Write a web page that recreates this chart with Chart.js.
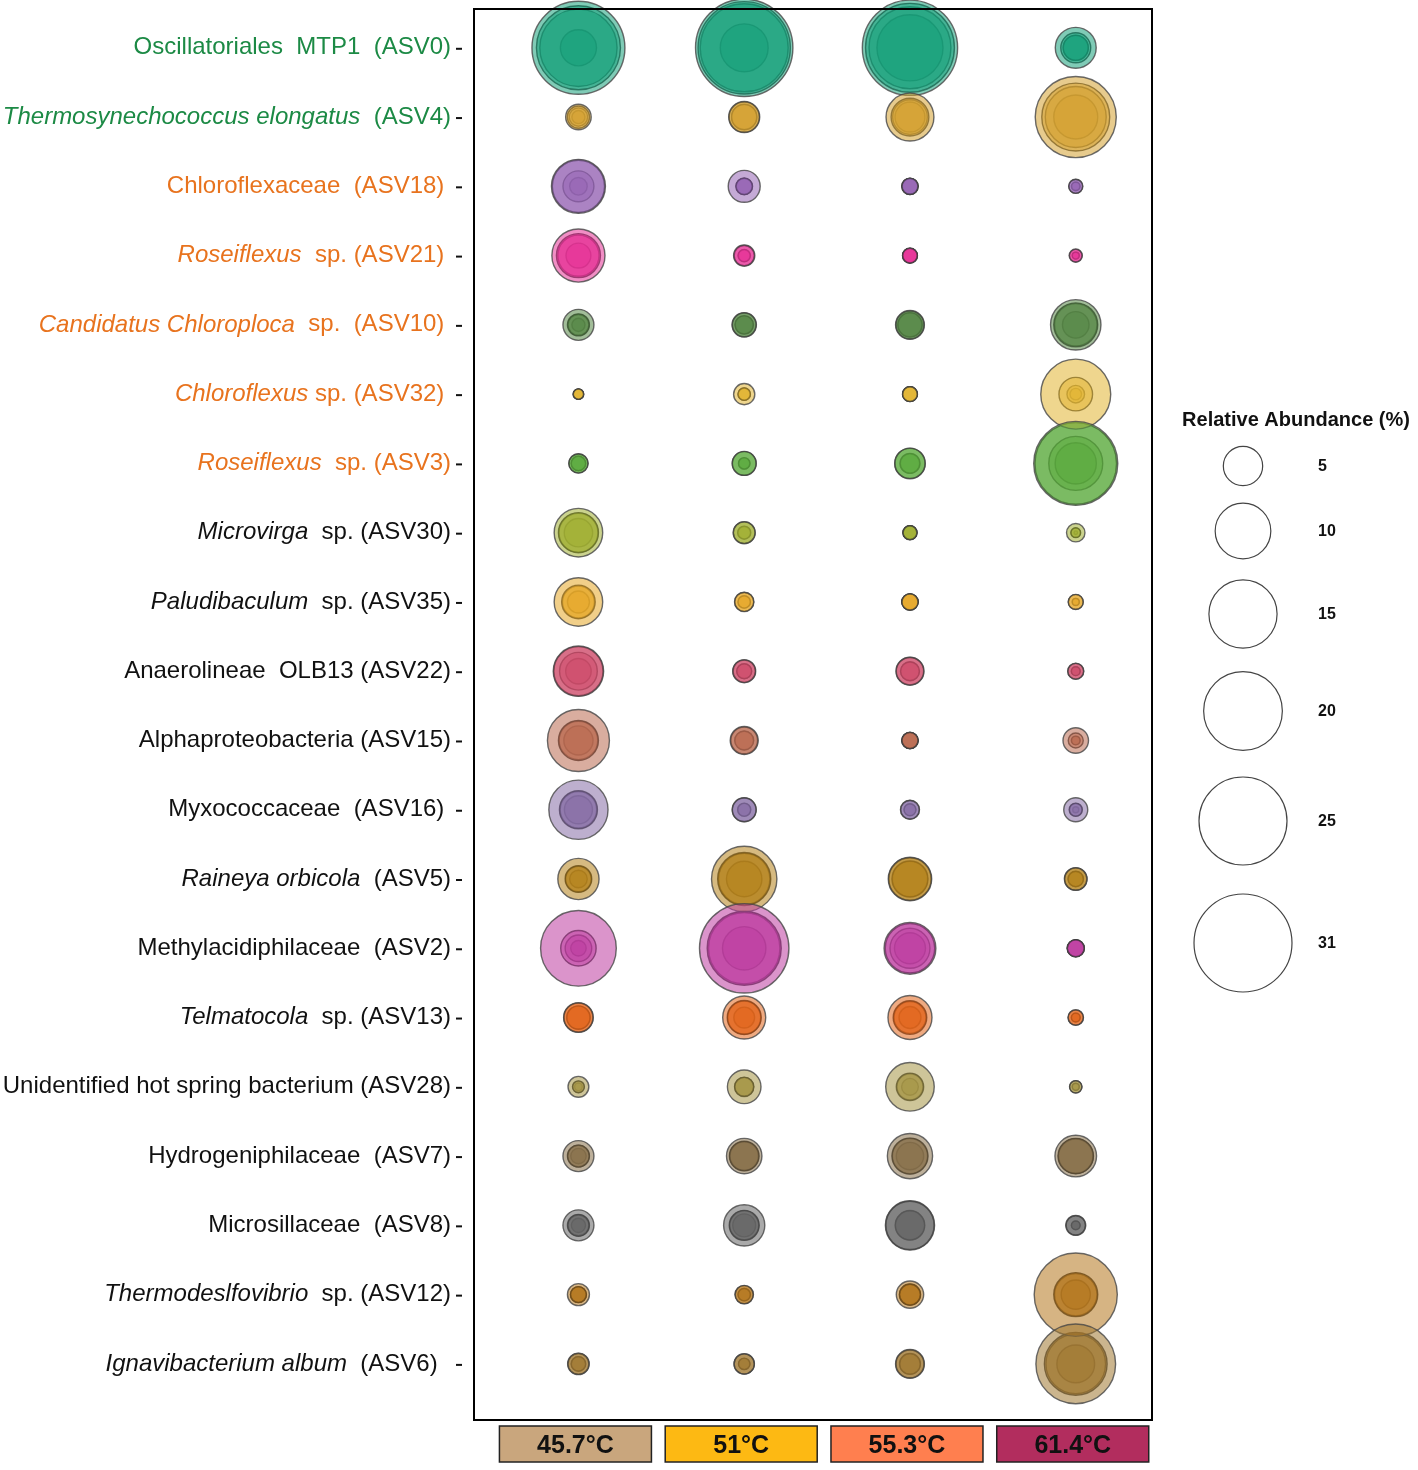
<!DOCTYPE html>
<html><head><meta charset="utf-8">
<script src="https://cdn.jsdelivr.net/npm/chart.js@4.4.0/dist/chart.umd.min.js"></script>
<style>html,body{margin:0;padding:0;background:#fff}#wrap{width:1418px;height:1470px;position:relative}</style>
</head><body><div id="wrap"><canvas id="c"></canvas></div>
<script>
// ---- categories (taxon labels as [text, italic?] segments) ----
const taxa = [
  [["Oscillatoriales  MTP1  (ASV0)", 0]],
  [["Thermosynechococcus elongatus", 1], ["  (ASV4)", 0]],
  [["Chloroflexaceae  (ASV18) ", 0]],
  [["Roseiflexus", 1], ["  sp. (ASV21) ", 0]],
  [["Candidatus Chloroploca", 1], ["  sp.  (ASV10) ", 0]],
  [["Chloroflexus", 1], [" sp. (ASV32) ", 0]],
  [["Roseiflexus", 1], ["  sp. (ASV3)", 0]],
  [["Microvirga", 1], ["  sp. (ASV30)", 0]],
  [["Paludibaculum", 1], ["  sp. (ASV35)", 0]],
  [["Anaerolineae  OLB13 (ASV22)", 0]],
  [["Alphaproteobacteria (ASV15)", 0]],
  [["Myxococcaceae  (ASV16) ", 0]],
  [["Raineya orbicola", 1], ["  (ASV5)", 0]],
  [["Methylacidiphilaceae  (ASV2)", 0]],
  [["Telmatocola", 1], ["  sp. (ASV13)", 0]],
  [["Unidentified hot spring bacterium (ASV28)", 0]],
  [["Hydrogeniphilaceae  (ASV7)", 0]],
  [["Microsillaceae  (ASV8)", 0]],
  [["Thermodeslfovibrio", 1], ["  sp. (ASV12)", 0]],
  [["Ignavibacterium album", 1], ["  (ASV6)  ", 0]]
];
const labelColors = ["#1c8a45","#1c8a45","#e8731e","#e8731e","#e8731e","#e8731e","#e8731e",
  "#111","#111","#111","#111","#111","#111","#111","#111","#111","#111","#111","#111","#111"];
const temperatures = ["45.7°C", "51°C", "55.3°C", "61.4°C"];
const tempColors = ["#C9A67D", "#FDB913", "#FF7F4F", "#B22D5E"];

// ---- relative abundance (%) per replicate, one row per taxon ----
const abundance_45_7 = [
  [27.9,22.8,19.3,4.2],[2.1,1.6,1.1,0.56],[9.4,8.8,3.1,1.0],[9.1,6.25,5.5,2.0],[3.1,1.56,1.4,0.56],
  [0.36,0.35,0.33,0.3],[1.21,1.15,0.69,0.65],[7.6,5.17,4.9,2.6],[7.6,3.64,3.3,1.56],[8.2,7.8,4.6,2.1],
  [12.4,5.17,4.8,2.75],[11.3,4.66,4.3,2.53],[5.48,2.28,2.1,1.0],[18.5,4.05,2.28,0.77],[2.83,2.7,1.77,1.7],
  [1.4,0.46,0.42,0.19],[3.1,1.56,1.5,0.77],[3.1,1.56,1.4,0.65],[1.56,0.83,0.8,0.78],[1.5,1.4,0.69,0.65]
];
const abundance_51 = [
  [30.6,27.5,25.0,7.4],[3.1,2.9,2.1,2.0],[3.3,0.91,0.85,0.8],[1.45,1.3,0.5,0.45],[1.92,1.8,1.1,1.05],
  [1.45,0.5,0.48,0.45],[1.86,1.8,0.43,0.4],[1.56,1.5,0.56,0.5],[1.21,1.15,0.5,0.48],[1.7,1.6,0.73,0.7],
  [2.53,2.3,1.17,1.1],[1.86,1.8,0.56,0.52],[13.8,9.1,8.5,4.05],[25.8,17.7,16.5,6.08],[5.97,3.73,3.5,1.4],
  [3.64,1.21,1.15,1.1],[4.05,2.83,2.7,2.6],[5.48,2.9,2.7,1.7],[1.1,1.05,0.5,0.48],[1.34,1.3,0.43,0.4]
];
const abundance_55_3 = [
  [29.3,25.5,21.7,14.1],[7.4,4.6,3.9,2.9],[0.87,0.85,0.8,0.75],[0.73,0.7,0.68,0.65],[2.68,2.5,1.92,1.85],
  [0.73,0.7,0.68,0.65],[3.02,2.9,1.29,1.2],[0.65,0.62,0.6,0.58],[0.87,0.85,0.82,0.8],[2.53,2.4,1.17,1.1],
  [0.87,0.85,0.82,0.8],[1.17,1.1,0.46,0.44],[6.08,5.8,4.18,4.0],[8.66,7.9,5.17,3.1],[6.25,3.64,3.3,1.56],
  [7.6,2.42,2.2,0.91],[6.6,4.18,4.0,2.42],[7.81,7.5,2.83,2.7],[2.42,1.45,1.4,1.35],[2.68,2.5,1.4,1.35]
];
const abundance_61_4 = [
  [5.4,2.9,2.05,2.0],[21.2,14.9,12.0,6.25],[0.65,0.6,0.25,0.2],[0.56,0.5,0.16,0.15],[8.2,6.25,5.8,2.28],
  [15.8,3.64,1.0,0.43],[22.8,21.5,9.4,5.48],[1.1,0.31,0.28,0.04],[0.73,0.7,0.16,0.15],[0.83,0.8,0.25,0.24],
  [2.1,0.73,0.25,0.22],[1.86,0.56,0.5,0.12],[1.65,1.6,0.77,0.74],[0.96,0.93,0.9,0.88],[0.77,0.74,0.25,0.24],
  [0.5,0.48,0.16,0.15],[5.59,4.05,3.9,3.8],[1.29,1.2,0.25,0.23],[22.3,6.25,5.8,2.75],[20.5,12.7,11.5,4.6]
];
const legendValues = [5, 10, 15, 20, 25, 31];
const taxonColors = [
  [22,160,122],[212,160,48],[150,100,180],[230,50,150],[85,135,70],[225,180,50],[90,170,60],
  [160,175,50],[230,168,40],[205,75,105],[185,105,80],[135,110,165],[180,130,25],[190,60,160],
  [225,100,25],[165,150,70],[135,112,72],[100,100,100],[180,118,30],[160,120,50]
];

// ---- build chart ----
const columns = [abundance_45_7, abundance_51, abundance_55_3, abundance_61_4];
const RK = 8.8;
const rad = v => RK * Math.sqrt(v);
const FONT = "'Liberation Sans', Arial, Helvetica, sans-serif";

const datasets = [];
for (let k = 0; k < 4; k++) {
  const data = [];
  for (let r = 0; r < taxa.length; r++) {
    for (let c = 0; c < columns.length; c++) {
      const v = columns[c][r][k];
      data.push({ x: c + 1, y: r, r: rad(v), v: v, row: r });
    }
  }
  datasets.push({
    label: 'rep' + (k + 1),
    data: data,
    clip: false,
    backgroundColor: ctx => { const col = taxonColors[ctx.raw.row]; return `rgba(${col[0]},${col[1]},${col[2]},0.55)`; },
    borderColor: k === 0 ? 'rgba(70,70,70,0.8)' : 'rgba(20,20,20,0.75)',
    borderWidth: 1.4
  });
}

const decor = {
  id: 'decor',
  afterDatasetsDraw(chart) {
    const ctx = chart.ctx, a = chart.chartArea;
    const xs = chart.scales.x, ys = chart.scales.y;
    ctx.save();
    // frame
    ctx.strokeStyle = '#000'; ctx.lineWidth = 2;
    ctx.strokeRect(a.left, a.top, a.right - a.left, a.bottom - a.top);
    // taxon labels
    ctx.textBaseline = 'middle';
    taxa.forEach((segs, i) => {
      const y = ys.getPixelForValue(i);
      let total = 0;
      segs.forEach(s => { ctx.font = (s[1] ? 'italic ' : '') + '24px ' + FONT; total += ctx.measureText(s[0]).width; });
      let x = 451 - total;
      ctx.fillStyle = labelColors[i];
      ctx.textAlign = 'left';
      segs.forEach(s => { ctx.font = (s[1] ? 'italic ' : '') + '24px ' + FONT; ctx.fillText(s[0], x, y); x += ctx.measureText(s[0]).width; });
      ctx.strokeStyle = '#111'; ctx.lineWidth = 2;
      ctx.beginPath(); ctx.moveTo(456, y + 1); ctx.lineTo(462, y + 1); ctx.stroke();
    });
    // temperature boxes
    temperatures.forEach((t, i) => {
      const cx = xs.getPixelForValue(i + 1) - 3;
      const w = 152, top = a.bottom + 6, h = 36;
      ctx.fillStyle = tempColors[i];
      ctx.fillRect(cx - w / 2, top, w, h);
      ctx.strokeStyle = '#222'; ctx.lineWidth = 1.5;
      ctx.strokeRect(cx - w / 2, top, w, h);
      ctx.fillStyle = '#111';
      ctx.font = "bold 25px 'Liberation Sans Narrow', 'Liberation Sans', Arial, sans-serif";
      ctx.textAlign = 'center';
      ctx.fillText(t, cx, top + h / 2 + 2);
    });
    // size legend
    ctx.fillStyle = '#111';
    ctx.font = 'bold 20px ' + FONT;
    ctx.textAlign = 'center';
    ctx.fillText('Relative Abundance (%)', 1296, 420);
    const ly = [466, 531, 614, 711, 821, 943];
    legendValues.forEach((v, i) => {
      ctx.beginPath();
      ctx.arc(1243, ly[i], rad(v), 0, Math.PI * 2);
      ctx.strokeStyle = '#444'; ctx.lineWidth = 1.2; ctx.stroke();
      ctx.fillStyle = '#111';
      ctx.font = 'bold 16px ' + FONT;
      ctx.textAlign = 'left';
      ctx.fillText(String(v), 1318, ly[i] + 1);
    });
    ctx.restore();
  }
};

new Chart(document.getElementById('c'), {
  type: 'bubble',
  data: { datasets },
  options: {
    responsive: true,
    maintainAspectRatio: false,
    animation: false,
    events: [],
    layout: { autoPadding: false, padding: { left: 474, right: 266, top: 9, bottom: 50 } },
    plugins: { legend: { display: false }, tooltip: { enabled: false } },
    scales: {
      x: { type: 'linear', min: 0.37, max: 4.46, display: false },
      y: { type: 'linear', min: -0.56, max: 19.81, reverse: true, display: false }
    }
  },
  plugins: [decor]
});
</script>
</body></html>
